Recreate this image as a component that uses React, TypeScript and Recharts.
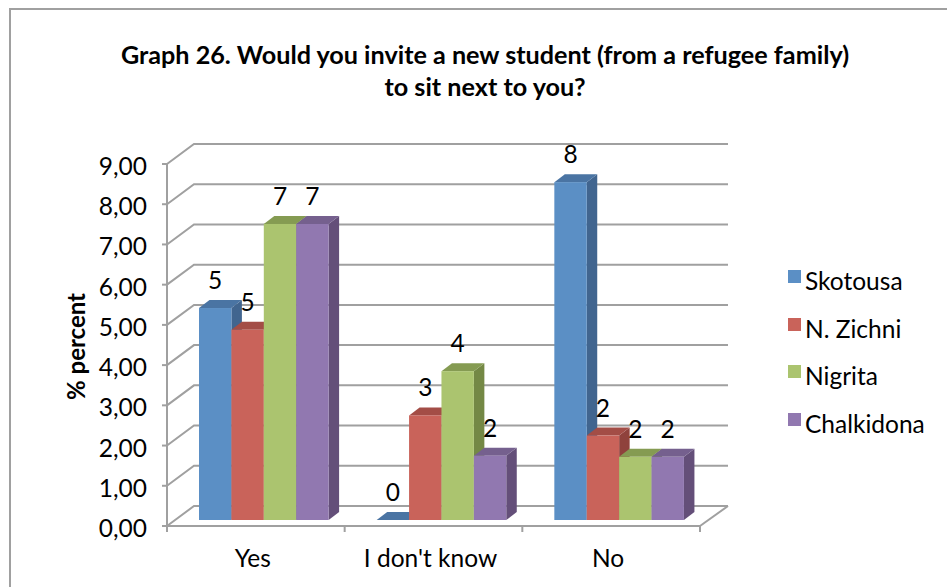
import { Bar, BarChart, CartesianGrid, LabelList, Legend, XAxis, YAxis } from "recharts";

const categories = ["Yes", "I don't know", "No"];
const seriesNames = ["Skotousa", "N. Zichni", "Nigrita", "Chalkidona"];
const skotousa = [5.27, 0, 8.4];
const nZichni = [4.73, 2.6, 2.1];
const nigrita = [7.36, 3.7, 1.57];
const chalkidona = [7.36, 1.6, 1.57];
const yTicks = [0, 1, 2, 3, 4, 5, 6, 7, 8, 9];

const seriesValues = [skotousa, nZichni, nigrita, chalkidona];
const chartData = categories.map((name, i) => {
    const row: Record<string, string | number> = { name };
    seriesNames.forEach((s, j) => {
        row[s] = seriesValues[j][i];
    });
    return row;
});

const faces = [
    { front: "#5b8fc5", top: "#4a74a3", side: "#41658f" },
    { front: "#c9635a", top: "#a34d46", side: "#8f423c" },
    { front: "#abc46f", top: "#859b52", side: "#748845" },
    { front: "#9178b0", top: "#75608e", side: "#644f79" },
];

const FONT = "Lato, sans-serif";
const FONT_SIZE = 24.5;
const GRID = "#a0a0a0";
const WIDTH = 947;
const HEIGHT = 587;
const PLOT_LEFT = 167;
const PLOT_RIGHT = 700;
const PLOT_TOP = 164;
const PLOT_BOTTOM = 526;
// wall sits behind the front plane, bars halfway-ish into the floor
const WALL_DX = 27;
const WALL_DY = -20;
const BAR_DX = 8;
const BAR_DY = -6;
const DEPTH_X = 10.5;
const DEPTH_Y = -8;

function GridLine({ x1, x2, y1 }: any) {
    const isFloor = Math.abs(y1 - PLOT_BOTTOM) < 1;
    return (
        <g stroke={GRID} strokeWidth={2} fill="none">
            <path d={`M${x1} ${y1}L${x1 + WALL_DX} ${y1 + WALL_DY}L${x2 + WALL_DX + 1} ${y1 + WALL_DY}`} />
            {isFloor && <path d={`M${x2} ${y1}L${x2 + WALL_DX + 1} ${y1 + WALL_DY}`} />}
        </g>
    );
}

function Bar3D({ x, y, width, height, index }: any) {
    const f = faces[index];
    const left = x + BAR_DX;
    const right = left + width;
    const top = y + BAR_DY;
    const bottom = top + height;
    return (
        <g>
            <path
                d={`M${right} ${top}L${right + DEPTH_X} ${top + DEPTH_Y}L${right + DEPTH_X} ${bottom + DEPTH_Y}L${right} ${bottom}Z`}
                fill={f.side}
            />
            <path
                d={`M${left} ${top}L${left + DEPTH_X} ${top + DEPTH_Y}L${right + DEPTH_X} ${top + DEPTH_Y}L${right} ${top}Z`}
                fill={f.top}
            />
            <rect x={left} y={top} width={width} height={height} fill={f.front} />
        </g>
    );
}

function BarValue({ x, y, width, value }: any) {
    return (
        <text
            x={x + width / 2 + BAR_DX}
            y={y + BAR_DY - 19}
            textAnchor="middle"
            fontFamily={FONT}
            fontSize={FONT_SIZE}
            fill="#000"
        >
            {Math.round(value)}
        </text>
    );
}

function CategoryTick({ x, y, payload, index }: any) {
    const band = (PLOT_RIGHT - PLOT_LEFT) / categories.length;
    return (
        <g>
            <line x1={x - band / 2} x2={x - band / 2} y1={PLOT_BOTTOM} y2={PLOT_BOTTOM + 6} stroke={GRID} strokeWidth={2} />
            {index === categories.length - 1 && (
                <line x1={x + band / 2} x2={x + band / 2} y1={PLOT_BOTTOM} y2={PLOT_BOTTOM + 6} stroke={GRID} strokeWidth={2} />
            )}
            <text x={x - 3} y={y + 33} textAnchor="middle" fontFamily={FONT} fontSize={FONT_SIZE} fill="#000">
                {payload.value}
            </text>
        </g>
    );
}

function ValueTick({ x, y, payload }: any) {
    return (
        <text x={x} y={y + 11} textAnchor="end" fontFamily={FONT} fontSize={FONT_SIZE} fill="#000">
            {payload.value.toFixed(2).replace(".", ",")}
        </text>
    );
}

function SeriesLegend({ payload }: any) {
    return (
        <div>
            {payload.map((item: any, i: number) => (
                <div
                    key={item.value}
                    style={{ position: "absolute", left: 0, top: i * 47.5, height: 30, whiteSpace: "nowrap" }}
                >
                    <span
                        style={{ position: "absolute", left: 0, top: 4, width: 13, height: 13, background: faces[i].front }}
                    />
                    <span style={{ position: "absolute", left: 17, top: 0, fontFamily: FONT, fontSize: FONT_SIZE, lineHeight: "30px", color: "#000" }}>
                        {item.value}
                    </span>
                </div>
            ))}
        </div>
    );
}

export default function App() {
    return (
        <div style={{ position: "absolute", left: 0, top: 0, width: WIDTH, height: HEIGHT, overflow: "hidden", background: "#fff" }}>
            <div
                style={{
                    position: "absolute",
                    left: 9,
                    top: 8,
                    right: -4,
                    bottom: -4,
                    border: `2px solid ${GRID}`,
                }}
            />
            <div
                style={{
                    position: "absolute",
                    left: 0,
                    top: 38,
                    width: 970,
                    textAlign: "center",
                    fontFamily: FONT,
                    fontWeight: 700,
                    fontSize: 25.2,
                    lineHeight: "32px",
                    color: "#000",
                    whiteSpace: "nowrap",
                }}
            >
                Graph 26. Would you invite a new student (from a refugee family)
                <br />
                to sit next to you?
            </div>
            <BarChart
                width={WIDTH}
                height={HEIGHT}
                data={chartData}
                style={{ position: "absolute", left: 0, top: 0 }}
                margin={{ top: PLOT_TOP, right: WIDTH - PLOT_RIGHT, bottom: 0, left: 47 }}
                barCategoryGap={24}
                barSize={32.4}
                barGap={0}
            >
                <CartesianGrid horizontal={GridLine} vertical={false} stroke={GRID} />
                <XAxis
                    dataKey="name"
                    height={HEIGHT - PLOT_BOTTOM}
                    axisLine={{ stroke: GRID, strokeWidth: 2 }}
                    tickLine={false}
                    interval={0}
                    tick={CategoryTick}
                />
                <YAxis
                    width={120}
                    domain={[0, 9]}
                    ticks={yTicks}
                    interval={0}
                    axisLine={{ stroke: GRID, strokeWidth: 2 }}
                    tickLine={{ stroke: GRID, strokeWidth: 2 }}
                    tickSize={5}
                    tickMargin={15}
                    tick={ValueTick}
                    label={{
                        value: "% percent",
                        angle: -90,
                        position: "insideLeft",
                        dx: 24,
                        dy: 55,
                        style: { fontFamily: FONT, fontSize: 24, fontWeight: 700, fill: "#000" },
                    }}
                />
                {seriesNames.map((s, i) => (
                    <Bar key={s} dataKey={s} fill={faces[i].front} isAnimationActive={false} shape={<Bar3D index={i} />}>
                        <LabelList dataKey={s} content={<BarValue />} />
                    </Bar>
                ))}
                <Legend
                    content={<SeriesLegend />}
                    itemSorter={null}
                    wrapperStyle={{ position: "absolute", left: 788, top: 266, width: 150, height: 0, bottom: "auto", right: "auto" }}
                />
            </BarChart>
        </div>
    );
}
